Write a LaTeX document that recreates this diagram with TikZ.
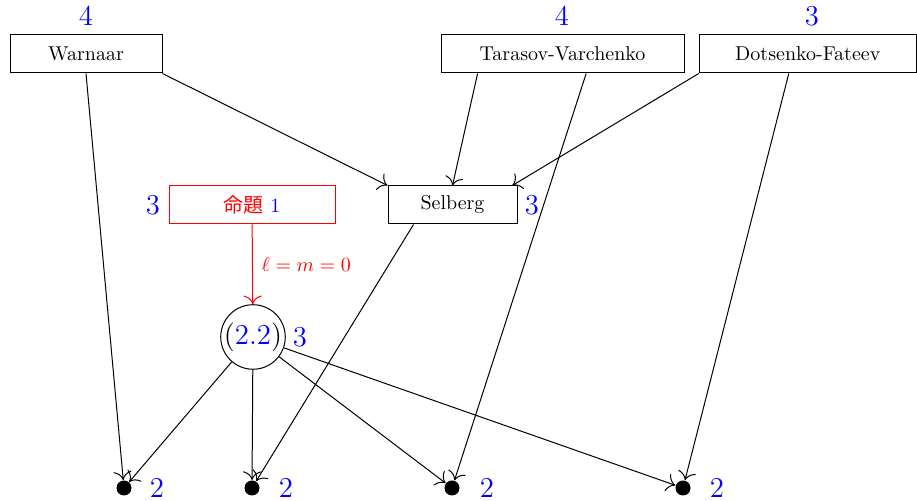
\documentclass[tikz,border=0pt]{standalone}
\usepackage{fontspec}
\newfontfamily\cjk{Noto Sans CJK JP}
\usetikzlibrary{calc,arrows.meta}
\begin{document}
\begin{tikzpicture}[x=0.5pt,y=-0.5pt, line width=0.5pt,
  box/.style={draw, minimum height=19pt, inner sep=0pt, font=\normalsize},
  num/.style={text=blue, font=\Large, inner sep=0pt},
  dot/.style={circle, fill=black, minimum size=7.5pt, inner sep=0pt},
  arr/.style={-{To[scale=1.6]}}]
\useasboundingbox (0,0) rectangle (917,501);
% boxes
\node[box, minimum width=76pt] (W) at (86,54) {Warnaar};
\node[box, minimum width=121.5pt] (TV) at (562.5,54) {Tarasov-Varchenko};
\node[box, minimum width=108.5pt] (DF) at (807.75,54) {Dotsenko-Fateev};
\node[box, minimum width=64.5pt] (S) at (452.5,205) {Selberg};
\node[box, draw=red, minimum width=83pt] (P) at (252,205) {\textcolor{red}{\cjk 命題} \textcolor{blue}{1}};
\node[circle, draw, inner sep=0pt, minimum size=31.5pt, font=\Large] (E) at (253,337) {(\textcolor{blue}{2.2})};
% dots
\node[dot] (d1) at (124,488) {};
\node[dot] (d2) at (252,488) {};
\node[dot] (d3) at (452,488) {};
\node[dot] (d4) at (683,488) {};
% numbers
\node[num] (nW) at (86,16) {4};
\node[num] (nTV) at (562,16) {4};
\node[num] (nDF) at (812,16) {3};
\node[num] (nS) at (532,205) {3};
\node[num] (nP) at (153,205) {3};
\node[num] (nE) at (300,337) {3};
\node[num] (n1) at (157,488) {2};
\node[num] (n2) at (286,488) {2};
\node[num] (n3) at (487,488) {2};
\node[num] (n4) at (717,488) {2};
% connectors
\draw[arr] (W.south) -- (d1);
\draw[arr] (W.south east) -- (S.north west);
\draw[arr] ($(TV.south west)!0.152!(TV.south east)$) -- (S.north);
\draw[arr] ($(TV.south west)!0.597!(TV.south east)$) -- (d3);
\draw[arr] (DF.south west) -- ($(S.north west)!0.96!(S.north east)$);
\draw[arr] ($(DF.south west)!0.413!(DF.south east)$) -- (d4);
\draw[arr] ($(S.south west)!0.2!(S.south east)$) -- (d2);
\draw[arr, red] (P) -- (E) node[midway, right, text=red, xshift=1pt] {$\ell = m = 0$};
\draw[arr] (E) -- (d1);
\draw[arr] (E) -- (d2);
\draw[arr] (E) -- (d3);
\draw[arr] (E) -- (d4);
\end{tikzpicture}
\end{document}
